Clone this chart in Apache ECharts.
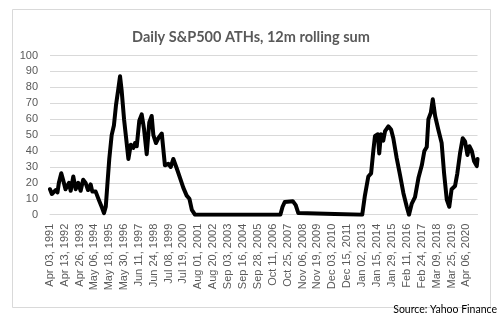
<!DOCTYPE html>
<html>
<head>
<meta charset="utf-8">
<script src="https://cdn.jsdelivr.net/npm/echarts@6/dist/echarts.min.js"></script>
<style>
  html, body { margin: 0; padding: 0; background: #ffffff; }
  #chart { width: 502px; height: 324px; }
</style>
</head>
<body>
<div id="chart"></div>
<script>
// Daily S&P 500 all-time highs, summed over a rolling 12-month window
const titleText = 'Daily S&P500 ATHs, 12m rolling sum';
const sourceText = 'Source: Yahoo Finance';

const dates = [
  '1991-04-03', '1991-05-20', '1991-06-25', '1991-08-25', '1991-10-10', '1991-11-15',
  '1992-01-15', '1992-03-01', '1992-05-01', '1992-06-10', '1992-07-28', '1992-09-10', '1992-11-15',
  '1993-01-15', '1993-03-22', '1993-05-22', '1993-07-25', '1993-09-25', '1993-11-25',
  '1994-02-01', '1994-03-15', '1994-06-08', '1994-09-01', '1994-11-22',
  '1995-01-05', '1995-02-20', '1995-03-30', '1995-05-20', '1995-07-20', '1995-09-15', '1995-11-08',
  '1996-01-05', '1996-02-18', '1996-03-30', '1996-05-30', '1996-07-18', '1996-09-18', '1996-11-18',
  '1997-01-22', '1997-03-05', '1997-04-18', '1997-06-22', '1997-08-22', '1997-10-20', '1997-12-28',
  '1998-03-03', '1998-05-03', '1998-06-15', '1998-08-20', '1998-10-18',
  '1999-01-15', '1999-04-05', '1999-07-01', '1999-09-01', '1999-11-05',
  '2000-02-01', '2000-04-25', '2000-07-15', '2000-10-10', '2000-12-18',
  '2001-02-18', '2001-05-08',
  '2007-04-20', '2007-06-15', '2007-08-10', '2008-03-01', '2008-05-15', '2008-07-20', '2008-09-01',
  '2013-01-01', '2013-03-10', '2013-06-05', '2013-08-15', '2013-10-10', '2013-11-22',
  '2014-02-01', '2014-03-10', '2014-04-22', '2014-06-20', '2014-08-05', '2014-10-28',
  '2015-01-05', '2015-03-03', '2015-05-28', '2015-08-20', '2015-11-15',
  '2016-02-08', '2016-04-05', '2016-06-15', '2016-09-05', '2016-12-01',
  '2017-02-25', '2017-05-01', '2017-07-01', '2017-08-12', '2017-10-12', '2017-12-01',
  '2018-01-30', '2018-04-20', '2018-07-15', '2018-09-15', '2018-11-22',
  '2019-01-25', '2019-03-25', '2019-06-20', '2019-08-18', '2019-10-25',
  '2020-01-01', '2020-03-01', '2020-05-01', '2020-06-20', '2020-08-20', '2020-10-18', '2020-12-25',
  '2021-01-12'
];

const athCounts = [
  16, 13, 13, 15.5, 14, 20,
  26, 22, 16, 15, 20, 15, 24,
  16, 20, 15, 22, 20, 15.5,
  19, 14.5, 14.5, 9, 4,
  1, 5, 18, 35, 50, 56, 69,
  79, 87, 78, 60, 49, 35, 44,
  42, 45, 43, 59, 63, 54, 38,
  58, 62, 50, 45, 48,
  51, 31, 32, 30, 35,
  29, 23, 17, 12, 10,
  3, 0,
  0, 5, 8, 8.5, 6, 1, 0,
  0, 12, 24, 26, 40, 49.5,
  50.5, 38.5, 50.5, 46.5, 52.5, 55.5,
  53.5, 48, 35.5, 25, 13.5,
  5, 0, 7, 11, 23,
  31, 40, 42.5, 60, 64, 72.5,
  62, 53.5, 45, 26, 9.5,
  5, 16, 18, 26, 38.5,
  48, 46, 37.5, 43, 40, 33.5, 30.5,
  35
];

// Date labels shown along the horizontal axis
const tickLabels = [
  'Apr 03, 1991', 'Apr 13, 1992', 'Apr 26, 1993', 'May 06, 1994', 'May 18, 1995',
  'May 30, 1996', 'Jun 11, 1997', 'Jun 24, 1998', 'Jul 08, 1999', 'Jul 19, 2000',
  'Aug 01, 2001', 'Aug 20, 2002', 'Sep 03, 2003', 'Sep 16, 2004', 'Sep 28, 2005',
  'Oct 11, 2006', 'Oct 25, 2007', 'Nov 06, 2008', 'Nov 19, 2009', 'Dec 03, 2010',
  'Dec 15, 2011', 'Jan 02, 2013', 'Jan 15, 2014', 'Jan 29, 2015', 'Feb 11, 2016',
  'Feb 24, 2017', 'Mar 09, 2018', 'Mar 25, 2019', 'Apr 06, 2020'
];

const MONTHS = ['Jan','Feb','Mar','Apr','May','Jun','Jul','Aug','Sep','Oct','Nov','Dec'];
function labelToTime(s) {
  const m = s.match(/^(\w{3}) (\d{2}), (\d{4})$/);
  return Date.UTC(+m[3], MONTHS.indexOf(m[1]), +m[2]);
}
function isoToTime(s) {
  const p = s.split('-');
  return Date.UTC(+p[0], +p[1] - 1, +p[2]);
}

const tickTimes = tickLabels.map(labelToTime);
const seriesData = dates.map((d, i) => [isoToTime(d), athCounts[i]]);

const chart = echarts.init(document.getElementById('chart'), null, { renderer: 'canvas' });

chart.setOption({
  animation: false,
  backgroundColor: '#ffffff',
  title: {
    text: titleText,
    left: 'center',
    top: 25,
    textStyle: { fontFamily: 'Lato', fontSize: 14.5, fontWeight: 'bold', color: '#595959' }
  },
  graphic: [
    {
      type: 'rect',
      shape: { x: 12.5, y: 9.5, width: 478, height: 298 },
      style: { fill: 'none', stroke: '#d9d9d9', lineWidth: 1 },
      silent: true
    },
    {
      type: 'text',
      right: 5,
      top: 304,
      style: { text: sourceText, fontFamily: 'Lato', fontSize: 10.5, fill: '#000000' }
    }
  ],
  grid: { left: 50, right: 24.5, top: 55.5, bottom: 109.3, containLabel: false },
  xAxis: {
    type: 'value',
    min: isoToTime('1991-04-03'),
    max: isoToTime('2021-01-12'),
    axisLine: { show: true, lineStyle: { color: '#d9d9d9', width: 1 } },
    axisTick: { show: false },
    splitLine: { show: false },
    axisLabel: {
      customValues: tickTimes,
      rotate: 90,
      margin: 9,
      color: '#595959',
      fontFamily: 'Liberation Sans',
      fontSize: 11,
      hideOverlap: false,
      formatter: (v) => {
        const i = tickTimes.indexOf(v);
        return i >= 0 ? tickLabels[i] : '';
      }
    }
  },
  yAxis: {
    type: 'value',
    min: 0,
    max: 100,
    interval: 10,
    axisLine: { show: false },
    axisTick: { show: false },
    splitLine: { lineStyle: { color: '#d9d9d9', width: 1 } },
    axisLabel: { color: '#595959', fontFamily: 'Liberation Sans', fontSize: 11, margin: 12 }
  },
  series: [{
    type: 'line',
    data: seriesData,
    showSymbol: false,
    lineStyle: { color: '#000000', width: 4, join: 'round', cap: 'round' }
  }]
});
</script>
</body>
</html>
